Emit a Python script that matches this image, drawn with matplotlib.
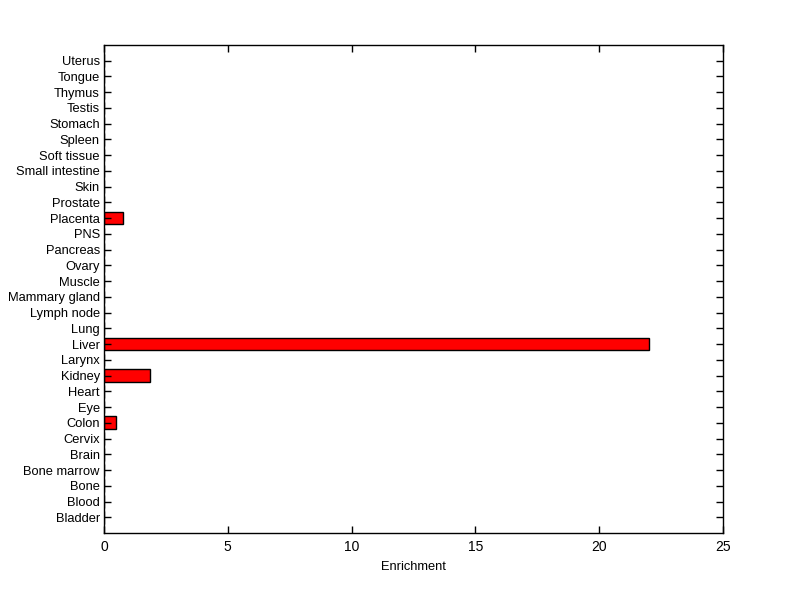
import matplotlib
matplotlib.use("Agg")
import matplotlib.pyplot as plt

tissues = ["Bladder", "Blood", "Bone", "Bone marrow", "Brain", "Cervix", "Colon", "Eye",
           "Heart", "Kidney", "Larynx", "Liver", "Lung", "Lymph node", "Mammary gland",
           "Muscle", "Ovary", "Pancreas", "PNS", "Placenta", "Prostate", "Skin",
           "Small intestine", "Soft tissue", "Spleen", "Stomach", "Testis", "Thymus",
           "Tongue", "Uterus"]
enrichment = [0, 0, 0, 0, 0, 0, 0.48, 0, 0, 1.87, 0, 22.0, 0, 0, 0, 0, 0, 0, 0, 0.75,
              0, 0, 0, 0, 0, 0, 0, 0, 0, 0]
xticks = [0, 5, 10, 15, 20, 25]

plt.rcParams['font.family'] = ['Liberation Sans', 'DejaVu Sans']
fig = plt.figure(figsize=(8, 5.99), dpi=100)
ax = fig.add_axes([0.13, 0.1102, 0.77375, 0.8147])
pos = list(range(1, len(tissues) + 1))
ax.barh(pos, enrichment, height=0.8, color='#ff0000', edgecolor='black', linewidth=1)
ax.set_ylim(0, len(tissues) + 1)
ax.set_xlim(0, 25)
ax.set_yticks(pos)
ax.set_yticklabels(tissues, fontsize=9.3)
ax.set_xticks(xticks)
ax.set_xticklabels([str(v) for v in xticks], fontsize=10)
ax.set_xlabel("Enrichment", fontsize=9.3, labelpad=5)
ax.tick_params(direction='in', length=5, width=1, top=True, right=True, pad=3)
ax.tick_params(axis='x', pad=5)
for s in ax.spines.values():
    s.set_linewidth(1)
fig.savefig("out.png", dpi=100, facecolor='white')
